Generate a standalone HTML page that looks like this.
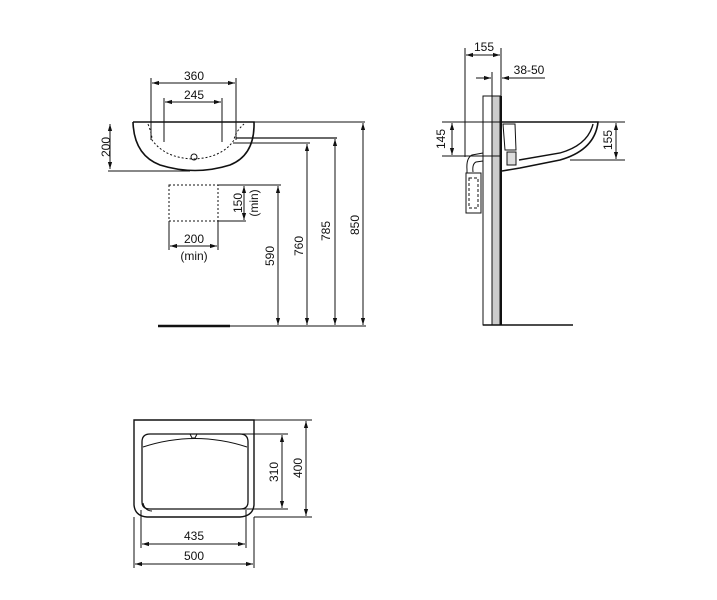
<!DOCTYPE html>
<html><head><style>body{margin:0;background:#fff}svg{display:block}text{font-family:"Liberation Sans",sans-serif;font-size:12px;fill:#111}</style></head><body>
<svg width="717" height="600" viewBox="0 0 717 600" xmlns="http://www.w3.org/2000/svg">
<defs><marker id="a" viewBox="0 0 10 10" refX="10" refY="5" markerWidth="7" markerHeight="7" orient="auto-start-reverse"><path d="M0,2 L10,5 L0,8 z" fill="#111"/></marker></defs>
<g stroke="#111" stroke-width="1" fill="none">
<!-- front view -->
<path d="M133,122 L254,122 Q255,155 230,165 Q195,176 160,165 Q134,155 133,122" stroke-width="1.6"/>
<path d="M148,124 Q152,134 152,140 Q165,158 193,159 Q222,158 234,140 Q235,132 244,124" stroke-dasharray="2,2"/>
<circle cx="194" cy="157" r="3"/>
<line x1="254" y1="122" x2="365" y2="122"/>
<line x1="236" y1="138" x2="337" y2="138" stroke-width="1.3"/>
<line x1="233" y1="143" x2="310" y2="143"/>
<line x1="108" y1="171" x2="190" y2="171"/>
<line x1="110" y1="124" x2="110" y2="169" marker-start="url(#a)" marker-end="url(#a)"/>
<line x1="151" y1="78" x2="151" y2="140"/><line x1="236" y1="78" x2="236" y2="140"/>
<line x1="164" y1="98" x2="164" y2="142"/><line x1="222" y1="98" x2="222" y2="142"/>
<line x1="152" y1="83" x2="235" y2="83" marker-start="url(#a)" marker-end="url(#a)"/>
<line x1="165" y1="102" x2="221" y2="102" marker-start="url(#a)" marker-end="url(#a)"/>
<rect x="169" y="185" width="49" height="36" stroke-dasharray="2,2"/>
<line x1="218" y1="185" x2="281" y2="185"/><line x1="218" y1="221" x2="246" y2="221"/>
<line x1="169" y1="221" x2="169" y2="250"/><line x1="218" y1="221" x2="218" y2="250"/>
<line x1="244" y1="186" x2="244" y2="220" marker-start="url(#a)" marker-end="url(#a)"/>
<line x1="170" y1="246" x2="217" y2="246" marker-start="url(#a)" marker-end="url(#a)"/>
<line x1="278" y1="186" x2="278" y2="325" marker-start="url(#a)" marker-end="url(#a)"/>
<line x1="307" y1="144" x2="307" y2="325" marker-start="url(#a)" marker-end="url(#a)"/>
<line x1="335" y1="139" x2="335" y2="325" marker-start="url(#a)" marker-end="url(#a)"/>
<line x1="363" y1="123" x2="363" y2="325" marker-start="url(#a)" marker-end="url(#a)"/>
<line x1="158" y1="326" x2="230" y2="326" stroke-width="2.5"/>
<line x1="230" y1="326" x2="366" y2="326"/>
<!-- side view -->
<line x1="465" y1="48" x2="465" y2="157"/><line x1="501" y1="48" x2="501" y2="96"/>
<line x1="466" y1="55" x2="500" y2="55" marker-start="url(#a)" marker-end="url(#a)"/>
<line x1="492" y1="72" x2="492" y2="96"/>
<line x1="476" y1="78" x2="491" y2="78" marker-end="url(#a)"/>
<line x1="545" y1="78" x2="502" y2="78" marker-end="url(#a)"/>
<rect x="483" y="96" width="9" height="229"/>
<rect x="492" y="96" width="8" height="229" fill="#ccc"/>
<line x1="501" y1="96" x2="501" y2="325" stroke-width="2"/>
<line x1="483" y1="325" x2="573" y2="325" stroke-width="1.6"/>
<path d="M502,122 L598,122 Q595,150 560,160 L520,168 L502,171" stroke-width="1.6"/>
<path d="M593,124 Q588,145 560,153 L519,160" stroke-width="1.4"/>
<path d="M503,124 L515,124 L516,150 L505,150 z" fill="#fff"/>
<path d="M507,152 L516,152 L516,165 L507,165 z" fill="#ddd"/>
<line x1="442" y1="122" x2="520" y2="122"/><line x1="442" y1="156" x2="500" y2="156"/>
<line x1="452" y1="123" x2="452" y2="155" marker-start="url(#a)" marker-end="url(#a)"/>
<line x1="598" y1="122" x2="625" y2="122"/><line x1="570" y1="160" x2="625" y2="160"/>
<line x1="616" y1="123" x2="616" y2="159" marker-start="url(#a)" marker-end="url(#a)"/>
<path d="M483,153 L472,155 Q466,158 467,170 L467,175"/>
<path d="M483,161 L476,162 Q472,164 473,172"/>
<rect x="466" y="173" width="15" height="40" fill="#fff"/>
<rect x="469" y="178" width="9" height="30" stroke-dasharray="3,2"/>
<!-- plan view -->
<path d="M134,420 L254,420 L254,505 Q253,516 240,517 L147,517 Q135,516 134,505 z" stroke-width="1.4"/>
<path d="M150,434 L240,434 Q248,434 248,442 L248,502 Q248,509 240,509 L150,509 Q142,509 142,502 L142,442 Q142,434 150,434 z" stroke-width="1.3"/>
<path d="M143,447 Q195,430 247,447"/>
<path d="M143,503 Q145,511 152,511"/>
<path d="M190,434 L197,434 L195,438 L192,438 z"/>
<line x1="254" y1="420" x2="312" y2="420"/><line x1="254" y1="517" x2="312" y2="517"/>
<line x1="240" y1="434" x2="288" y2="434"/><line x1="240" y1="509" x2="288" y2="509"/>
<line x1="306" y1="421" x2="306" y2="516" marker-start="url(#a)" marker-end="url(#a)"/>
<line x1="282" y1="435" x2="282" y2="508" marker-start="url(#a)" marker-end="url(#a)"/>
<line x1="141" y1="510" x2="141" y2="548"/><line x1="246" y1="510" x2="246" y2="548"/>
<line x1="134" y1="517" x2="134" y2="568"/><line x1="254" y1="517" x2="254" y2="568"/>
<line x1="142" y1="544" x2="245" y2="544" marker-start="url(#a)" marker-end="url(#a)"/>
<line x1="135" y1="564" x2="253" y2="564" marker-start="url(#a)" marker-end="url(#a)"/>
</g>
<g text-anchor="middle">
<text x="194" y="80">360</text><text x="194" y="99">245</text>
<text x="106" y="147" transform="rotate(-90 106 147)" dy="4">200</text>
<text x="238" y="203" transform="rotate(-90 238 203)" dy="4">150</text>
<text x="254" y="203" transform="rotate(-90 254 203)" dy="4">(min)</text>
<text x="194" y="243">200</text><text x="194" y="260">(min)</text>
<text x="270" y="256" transform="rotate(-90 270 256)" dy="4">590</text>
<text x="299" y="246" transform="rotate(-90 299 246)" dy="4">760</text>
<text x="326" y="231" transform="rotate(-90 326 231)" dy="4">785</text>
<text x="355" y="225" transform="rotate(-90 355 225)" dy="4">850</text>
<text x="484" y="51">155</text><text x="529" y="74">38-50</text>
<text x="441" y="139" transform="rotate(-90 441 139)" dy="4">145</text>
<text x="608" y="140" transform="rotate(-90 608 140)" dy="4">155</text>
<text x="274" y="472" transform="rotate(-90 274 472)" dy="4">310</text>
<text x="298" y="468" transform="rotate(-90 298 468)" dy="4">400</text>
<text x="194" y="540">435</text><text x="194" y="560">500</text>
</g>
</svg>
</body></html>
